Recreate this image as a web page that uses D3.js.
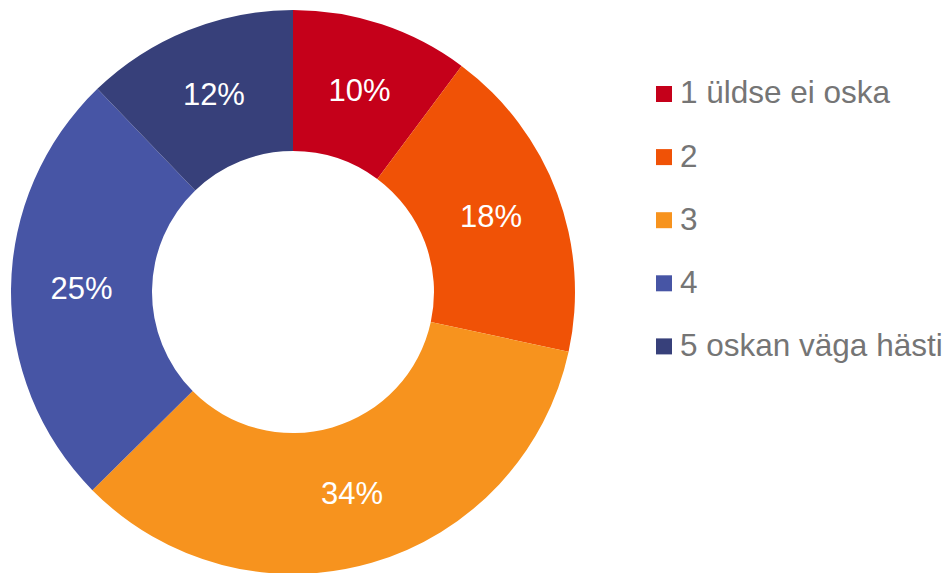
<!DOCTYPE html>
<html>
<head>
<meta charset="utf-8">
<script src="https://cdn.jsdelivr.net/npm/d3@7"></script>
<style>
  body { margin: 0; background: #fff; }
  text { font-family: "Liberation Sans", Arial, sans-serif; }
</style>
</head>
<body>
<div id="chart"></div>
<script>
const categories = ['1 üldse ei oska', '2', '3', '4', '5 oskan väga hästi'];
const values = [10.2, 18.2, 34.2, 25.2, 12.2];
const colors = ['#c5001a', '#f05206', '#f7931e', '#4755a5', '#37407a'];

const width = 952;
const height = 573;
const cx = 293;
const cy = 292;
const outerR = 282;
const innerR = 141;

const svg = d3
  .select('#chart')
  .append('svg')
  .attr('width', width)
  .attr('height', height);

const total = d3.sum(values);
const pie = d3.pie().sort(null).value((d) => d)(values);
const arc = d3.arc().innerRadius(innerR).outerRadius(outerR);
const labelArc = d3
  .arc()
  .innerRadius((innerR + outerR) / 2)
  .outerRadius((innerR + outerR) / 2);

const g = svg.append('g').attr('transform', `translate(${cx},${cy})`);

g.selectAll('path')
  .data(pie)
  .enter()
  .append('path')
  .attr('d', arc)
  .style('fill', (d, i) => colors[i]);

// percentage labels
g.selectAll('text')
  .data(pie)
  .enter()
  .append('text')
  .attr('transform', (d) => `translate(${labelArc.centroid(d)})`)
  .attr('text-anchor', 'middle')
  .attr('dy', '0.3em')
  .style('fill', '#fff')
  .style('font-size', '31px')
  .text((d) => Math.round((d.value / total) * 100) + '%');

// legend
const legend = svg
  .append('g')
  .selectAll('g')
  .data(categories)
  .enter()
  .append('g')
  .attr('transform', (d, i) => `translate(656,${94 + i * 63.1})`);

legend
  .append('rect')
  .attr('x', 0)
  .attr('y', -8)
  .attr('width', 16)
  .attr('height', 16)
  .style('fill', (d, i) => colors[i]);

legend
  .append('text')
  .attr('x', 24)
  .attr('dy', '0.3em')
  .style('fill', '#757575')
  .style('font-size', '31.5px')
  .text((d) => d);
</script>
</body>
</html>
